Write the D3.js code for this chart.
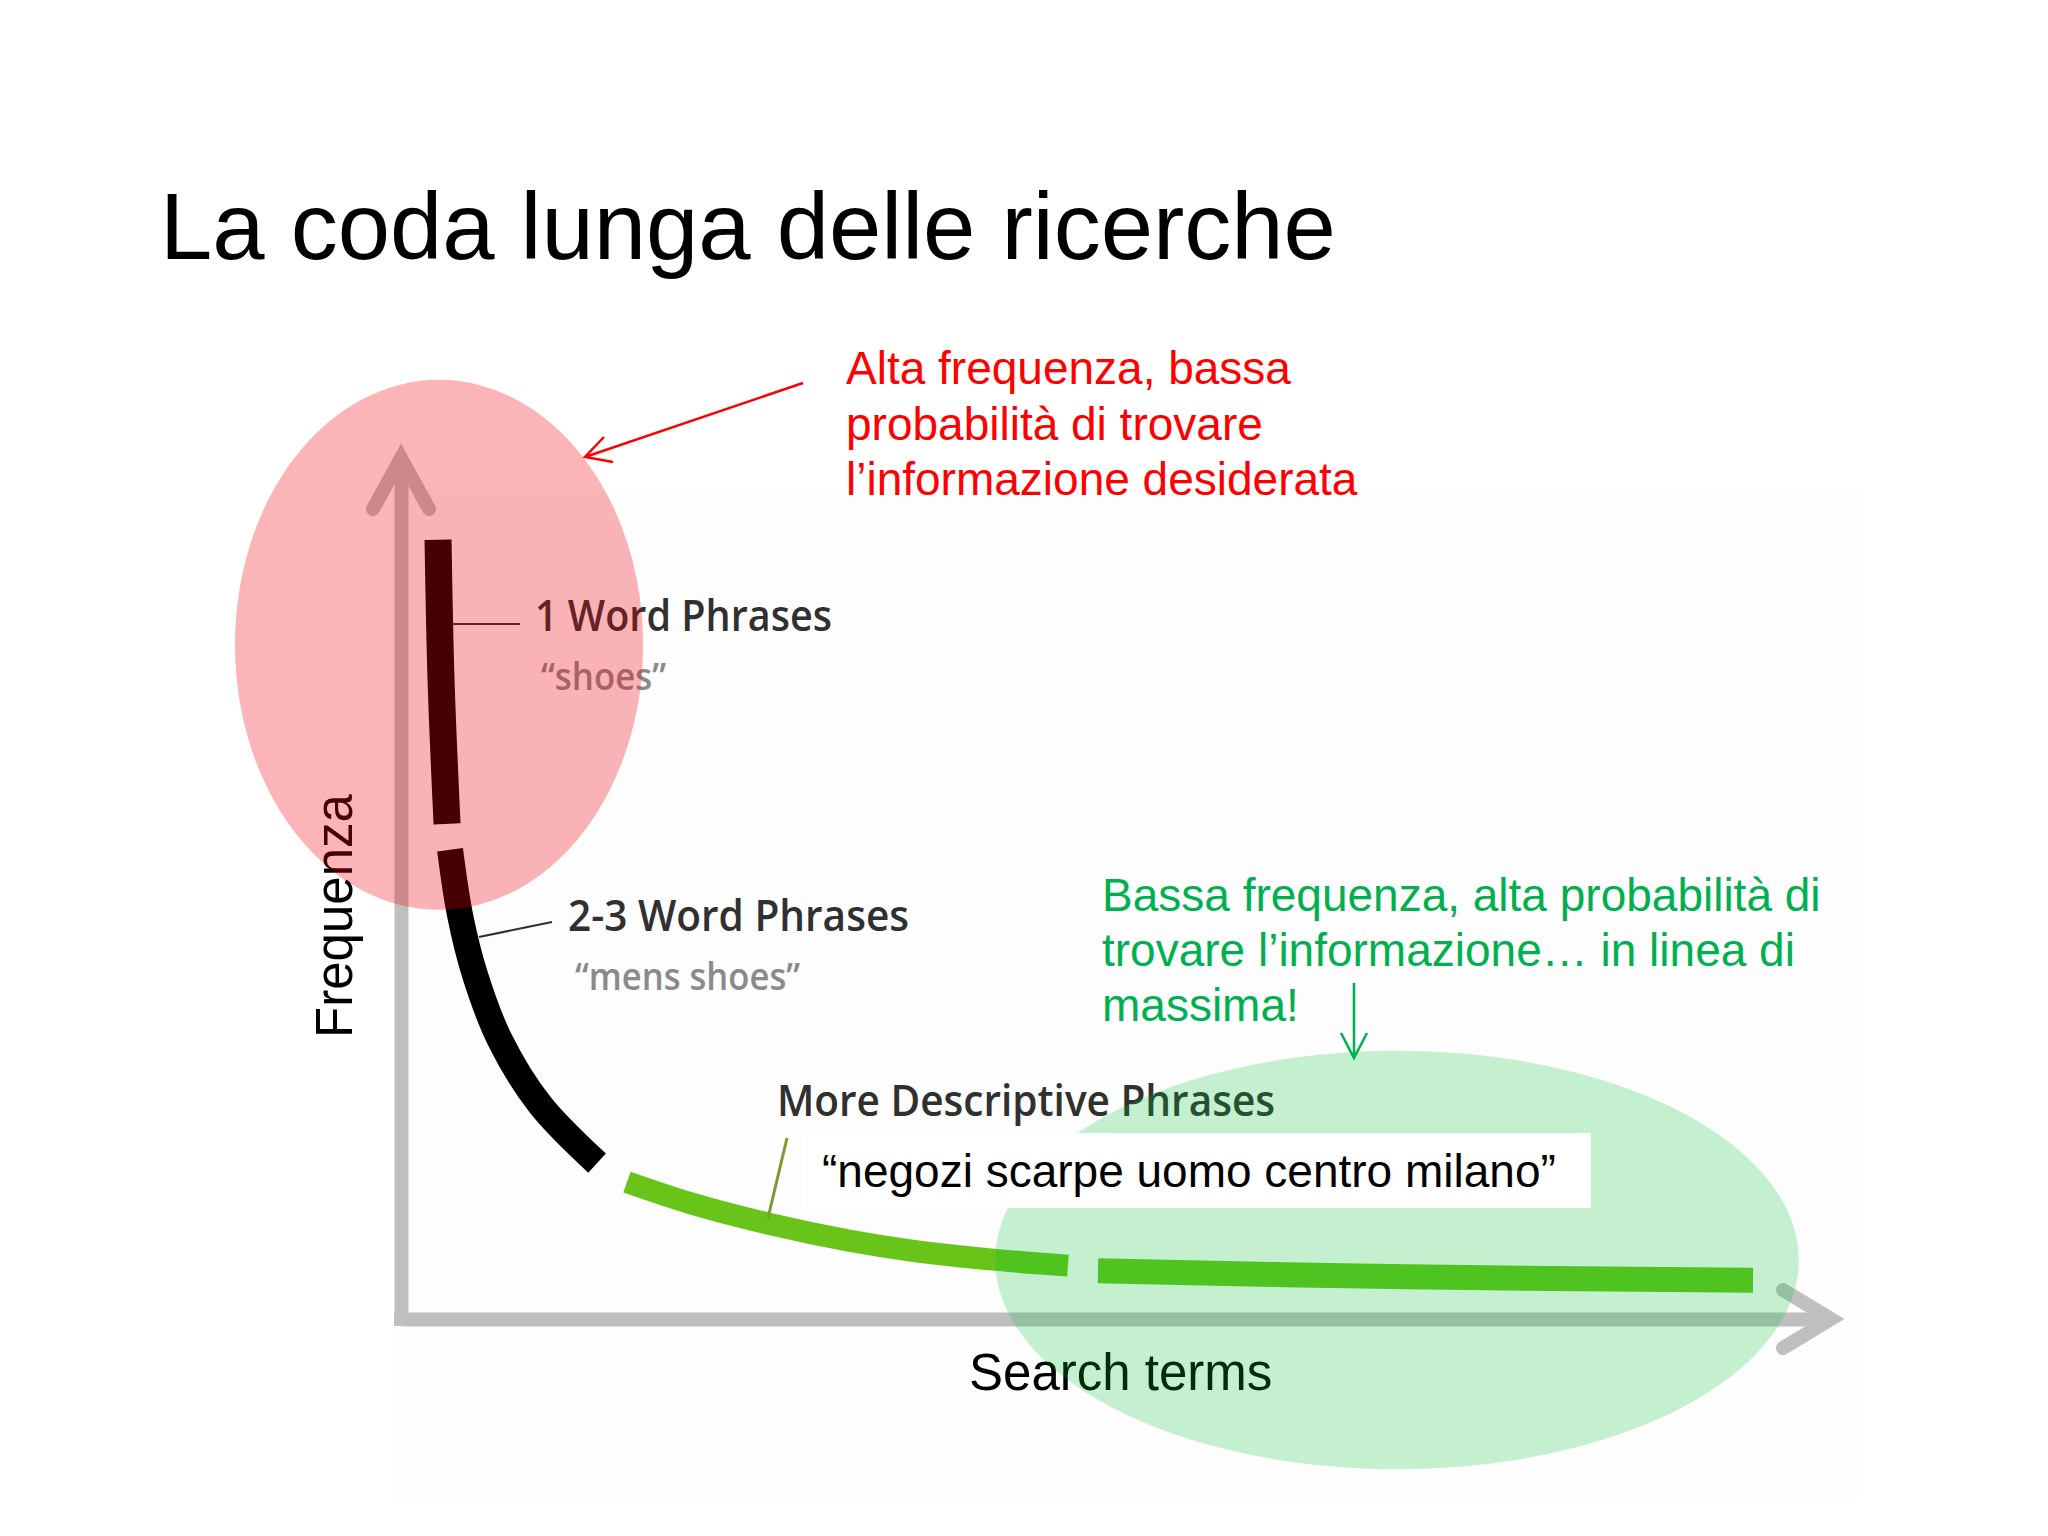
<!DOCTYPE html>
<html>
<head>
<meta charset="utf-8">
<script src="https://cdn.jsdelivr.net/npm/d3@7"></script>
<style>
  body { margin: 0; background: #ffffff; }
  svg { display: block; }
  .slideText { font-family: "Liberation Sans", Arial, sans-serif; }
  .imgLabel { font-family: "Open Sans", sans-serif; font-weight: 600; }
</style>
</head>
<body>
<div id="chart"></div>
<script>
// Long tail curve (rank of search term vs frequency, 0-100)
var headRank = [2.59, 2.80, 3.22];
var headFreq = [90.5, 74.2, 57.5];
var bodyRank = [3.43, 4.13, 5.17, 6.92, 9.72, 13.71];
var bodyFreq = [54.5, 46.9, 40.0, 32.4, 24.9, 18.1];
var tailRank = [15.80, 20.35, 25.87, 31.33, 35.87, 41.40, 46.64];
var tailFreq = [15.9, 13.4, 11.0, 9.1, 7.9, 6.9, 6.2];
var farTailRank = [48.74, 70.35, 94.55];
var farTailFreq = [5.6, 4.9, 4.5];

// Texts
var titleText = "La coda lunga delle ricerche";
var phraseLabels = ["1 Word Phrases", "2-3 Word Phrases", "More Descriptive Phrases"];
var phraseExamples = ["\u201Cshoes\u201D", "\u201Cmens shoes\u201D", "\u201Cnegozi scarpe uomo centro milano\u201D"];
var redNote = ["Alta frequenza, bassa", "probabilit\u00E0 di trovare", "l\u2019informazione desiderata"];
var greenNote = ["Bassa frequenza, alta probabilit\u00E0 di", "trovare l\u2019informazione\u2026 in linea di", "massima!"];
var xTitle = "Search terms";
var yTitle = "Frequenza";

// Define SVG area dimensions
var svgWidth = 2048;
var svgHeight = 1536;

var svg = d3.select("#chart")
    .append("svg")
    .attr("width", svgWidth)
    .attr("height", svgHeight);

// Scales: plot area of the pasted chart
var xScale = d3.scaleLinear().domain([0, 100]).range([401, 1831]);
var yScale = d3.scaleLinear().domain([0, 100]).range([1319, 458]);

var axisGrey = "#c0bfc0";

// faint backdrop of the pasted picture
svg.append("rect")
    .attr("x", xScale(0) - 6)
    .attr("y", yScale(100) + 32)
    .attr("width", xScale(100) - xScale(0) + 32)
    .attr("height", 1010)
    .attr("fill", "#fdfdfd");

// Axes (no ticks, just the thick grey lines)
var xAxis = d3.axisBottom(xScale).tickValues([]).tickSizeOuter(0);
var yAxis = d3.axisLeft(yScale).tickValues([]).tickSizeOuter(0);

var xAxisG = svg.append("g")
    .attr("transform", `translate(0, ${yScale(0)})`)
    .call(xAxis);
var yAxisG = svg.append("g")
    .attr("transform", `translate(${xScale(0)}, 0)`)
    .call(yAxis);
[xAxisG, yAxisG].forEach(g => {
    g.select(".domain")
        .attr("stroke", axisGrey)
        .attr("stroke-width", 14)
        .attr("fill", "none");
});
svg.append("rect")
    .attr("x", xScale(0) - 7)
    .attr("y", yScale(0) - 7)
    .attr("width", 14)
    .attr("height", 14)
    .attr("fill", axisGrey);

// arrow heads on the axes
var xEnd = xScale(100), yEnd = yScale(100);
svg.append("path")
    .attr("d", `M${xEnd - 48},${yScale(0) - 29}L${xEnd},${yScale(0)}L${xEnd - 48},${yScale(0) + 29}`)
    .attr("fill", "none")
    .attr("stroke", axisGrey)
    .attr("stroke-width", 14)
    .attr("stroke-linecap", "round")
    .attr("stroke-linejoin", "miter");
svg.append("path")
    .attr("d", `M${xScale(0) - 28},${yEnd + 51}L${xScale(0)},${yEnd}L${xScale(0) + 28},${yEnd + 51}`)
    .attr("fill", "none")
    .attr("stroke", axisGrey)
    .attr("stroke-width", 14)
    .attr("stroke-linecap", "round")
    .attr("stroke-linejoin", "miter");

// Curve segments
var line = d3.line()
    .x(d => xScale(d[0]))
    .y(d => yScale(d[1]))
    .curve(d3.curveCatmullRom.alpha(0.5));

var segments = [
    { rank: headRank, freq: headFreq, color: "#000000", width: 27 },
    { rank: bodyRank, freq: bodyFreq, color: "#000000", width: 26 },
    { rank: tailRank, freq: tailFreq, color: "#68c418", width: 22 },
    { rank: farTailRank, freq: farTailFreq, color: "#66c41a", width: 25 }
];

svg.selectAll("path.segment")
    .data(segments)
    .enter()
    .append("path")
    .attr("class", "segment")
    .attr("d", s => line(s.rank.map((r, i) => [r, s.freq[i]])))
    .attr("fill", "none")
    .attr("stroke", s => s.color)
    .attr("stroke-width", s => s.width)
    .attr("stroke-linecap", "butt");

// leader lines from the curve to the labels
svg.append("line")
    .attr("x1", 453).attr("y1", 624).attr("x2", 520).attr("y2", 624)
    .attr("stroke", "#2e2e2e").attr("stroke-width", 2);
svg.append("line")
    .attr("x1", 479).attr("y1", 937).attr("x2", 552).attr("y2", 922)
    .attr("stroke", "#2e2e2e").attr("stroke-width", 2);
svg.append("line")
    .attr("x1", 787).attr("y1", 1138).attr("x2", 768).attr("y2", 1218)
    .attr("stroke", "#7c9a30").attr("stroke-width", 3);

// labels of the pasted chart
var labelPos = [
    { x: 535, y: 631, len: 297 },
    { x: 568, y: 931, len: 341 },
    { x: 777, y: 1116, len: 498 }
];
svg.selectAll("text.phrase")
    .data(phraseLabels)
    .enter()
    .append("text")
    .attr("class", "phrase imgLabel")
    .attr("x", (d, i) => labelPos[i].x)
    .attr("y", (d, i) => labelPos[i].y)
    .attr("textLength", (d, i) => labelPos[i].len)
    .attr("lengthAdjust", "spacingAndGlyphs")
    .style("font-size", "43px")
    .attr("fill", "#303030")
    .text(d => d);

var examplePos = [
    { x: 541, y: 690, len: 125 },
    { x: 575, y: 990, len: 225 }
];
svg.selectAll("text.example")
    .data(phraseExamples.slice(0, 2))
    .enter()
    .append("text")
    .attr("class", "example imgLabel")
    .attr("x", (d, i) => examplePos[i].x)
    .attr("y", (d, i) => examplePos[i].y)
    .attr("textLength", (d, i) => examplePos[i].len)
    .attr("lengthAdjust", "spacingAndGlyphs")
    .style("font-size", "37px")
    .attr("fill", "#8a8a8a")
    .text(d => d);

// axis titles
svg.append("text")
    .attr("class", "slideText")
    .attr("transform", "rotate(-90)")
    .attr("x", -916)
    .attr("y", 352)
    .style("text-anchor", "middle")
    .style("font-size", "51px")
    .text(yTitle);
svg.append("text")
    .attr("class", "slideText")
    .attr("x", 969)
    .attr("y", 1390)
    .style("font-size", "51px")
    .text(xTitle);

// highlight ellipses (drawn over the picture)
svg.append("ellipse")
    .attr("cx", xScale(2.66))
    .attr("cy", yScale(78.3))
    .attr("rx", xScale(14.27) - xScale(0))
    .attr("ry", yScale(0) - yScale(30.78))
    .attr("fill", "rgb(241,0,10)")
    .attr("fill-opacity", 0.29);
svg.append("ellipse")
    .attr("cx", xScale(69.65))
    .attr("cy", yScale(6.85))
    .attr("rx", xScale(28.1) - xScale(0))
    .attr("ry", yScale(0) - yScale(24.3))
    .attr("fill", "rgb(0,197,54)")
    .attr("fill-opacity", 0.224);

// white box with the long tail example
svg.append("rect")
    .attr("x", 802)
    .attr("y", 1133)
    .attr("width", 789)
    .attr("height", 75)
    .attr("fill", "#ffffff");
svg.append("text")
    .attr("class", "slideText")
    .attr("x", 822)
    .attr("y", 1187)
    .style("font-size", "46px")
    .attr("fill", "#000000")
    .text(phraseExamples[2]);

// red note + arrow
svg.append("text")
    .attr("class", "slideText")
    .style("font-size", "46px")
    .attr("fill", "#ff0000")
    .selectAll("tspan")
    .data(redNote)
    .enter()
    .append("tspan")
    .attr("x", 846)
    .attr("y", (d, i) => 384 + i * 55.5)
    .text(d => d);
svg.append("path")
    .attr("d", "M803,383L585,457M604,437L585,457L613,462")
    .attr("fill", "none")
    .attr("stroke", "#ff0000")
    .attr("stroke-width", 2.5);

// green note + arrow
svg.append("text")
    .attr("class", "slideText")
    .style("font-size", "46px")
    .attr("fill", "#00b050")
    .selectAll("tspan")
    .data(greenNote)
    .enter()
    .append("tspan")
    .attr("x", 1102)
    .attr("y", (d, i) => 911 + i * 55)
    .text(d => d);
svg.append("path")
    .attr("d", "M1354,983V1058M1341,1033L1354,1058L1367,1033")
    .attr("fill", "none")
    .attr("stroke", "#00b050")
    .attr("stroke-width", 2.5);

// slide title
svg.append("text")
    .attr("class", "slideText")
    .attr("x", 160)
    .attr("y", 259)
    .style("font-size", "94px")
    .attr("fill", "#000000")
    .text(titleText);
</script>
</body>
</html>
